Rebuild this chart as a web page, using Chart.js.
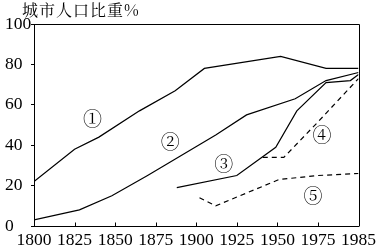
<!DOCTYPE html>
<html>
<head>
<meta charset="utf-8">
<script src="https://cdn.jsdelivr.net/npm/chart.js@4/dist/chart.umd.min.js"></script>
<style>
  html, body { margin: 0; padding: 0; background: #fff; }
</style>
</head>
<body>
<canvas id="myChart" width="380" height="250"></canvas>
<script>
// x axis tick labels (the last step, 1975 -> 1985, is drawn as wide as the others)
const tickYears = [1800, 1825, 1850, 1875, 1900, 1925, 1950, 1975, 1985]

// curves: year / urban share %
const years1 = [1800, 1825, 1840, 1865, 1887, 1905, 1952, 1977, 1985]
const vals1  = [22, 38, 44, 57, 67, 78, 84, 78, 78]
const years2 = [1800, 1828, 1848, 1870, 1912, 1931, 1961, 1977, 1985]
const vals2  = [3, 8, 15, 25, 45, 55, 63, 72, 76]
const years3 = [1888, 1925, 1949, 1962, 1977, 1983, 1985]
const vals3  = [19, 25, 39, 57, 71, 72, 75]
const years4 = [1941, 1954, 1975, 1985]
const vals4  = [34, 34, 51.5, 73]
const years5 = [1902, 1912, 1951, 1975, 1985]
const vals5  = [14, 10, 23, 25, 26]

// circled numbers inside the plot
const marks = ['①', '②', '③', '④', '⑤']
const markYears = [1836, 1884, 1917, 1976, 1972]
const markVals = [53, 41.5, 31, 45, 15]

// year -> position on the (evenly spaced) tick axis
function pos(year) {
    for (let i = 0; i < tickYears.length - 1; i++) {
        if (year <= tickYears[i + 1]) {
            return i + (year - tickYears[i]) / (tickYears[i + 1] - tickYears[i])
        }
    }
    return tickYears.length - 1
}

function pts(ys, vs) {
    return ys.map((yr, i) => ({ x: pos(yr), y: vs[i] }))
}

function line(ys, vs, dashed) {
    return {
        data: pts(ys, vs),
        borderColor: '#000',
        borderWidth: 1.2,
        borderDash: dashed ? [5, 4] : [],
        pointRadius: 0,
        tension: 0,
        fill: false
    }
}

const extras = {
    id: 'extras',
    afterDraw(chart) {
        const { ctx, chartArea: a, scales: { x, y } } = chart
        ctx.save()
        ctx.strokeStyle = '#000'
        ctx.lineWidth = 1
        // box: top and right edges
        const l = Math.round(a.left) + 0.5, t = Math.round(a.top) + 0.5
        const r = Math.round(a.right) + 0.5, b = Math.round(a.bottom) + 0.5
        ctx.beginPath()
        ctx.moveTo(l, t)
        ctx.lineTo(r, t)
        ctx.lineTo(r, b)
        ctx.stroke()
        // x ticks pointing inward
        ctx.beginPath()
        for (let i = 1; i < tickYears.length - 1; i++) {
            const px = Math.round(x.getPixelForValue(i)) + 0.5
            ctx.moveTo(px, b)
            ctx.lineTo(px, b - 4)
        }
        ctx.stroke()
        // title
        ctx.fillStyle = '#000'
        ctx.font = '16px "Noto Serif CJK SC"'
        ctx.letterSpacing = '1px'
        ctx.textAlign = 'left'
        ctx.textBaseline = 'alphabetic'
        ctx.fillText('城市人口比重%', 22, 16)
        ctx.letterSpacing = '0px'
        // circled numbers
        ctx.font = '19px "Noto Serif CJK SC"'
        ctx.textAlign = 'center'
        ctx.textBaseline = 'middle'
        marks.forEach((m, i) => {
            ctx.fillText(m, x.getPixelForValue(pos(markYears[i])), y.getPixelForValue(markVals[i]))
        })
        ctx.restore()
    }
}

const tickFont = { family: '"Liberation Serif", "Times New Roman", serif', size: 17.5 }

new Chart(document.getElementById('myChart'), {
    type: 'line',
    data: {
        datasets: [
            line(years1, vals1, false),
            line(years2, vals2, false),
            line(years3, vals3, false),
            line(years4, vals4, true),
            line(years5, vals5, true)
        ]
    },
    options: {
        responsive: false,
        animation: false,
        layout: { padding: { left: 5, top: 24, right: 15, bottom: 0 } },
        plugins: { legend: { display: false }, tooltip: { enabled: false } },
        scales: {
            x: {
                type: 'linear',
                min: 0,
                max: tickYears.length - 1,
                afterFit: s => { s.height = 24 },
                ticks: {
                    stepSize: 1,
                    autoSkip: false,
                    maxRotation: 0,
                    padding: 4,
                    color: '#000',
                    font: tickFont,
                    callback: v => tickYears[v]
                },
                grid: { display: false, drawTicks: false },
                border: { display: true, color: '#000', width: 1 }
            },
            y: {
                min: 0,
                max: 100,
                afterFit: s => { s.width = 29 },
                ticks: {
                    stepSize: 10,
                    crossAlign: 'far',
                    color: '#000',
                    font: tickFont,
                    callback: v => v % 20 === 0 ? v : ''
                },
                grid: { drawOnChartArea: false, tickLength: 3, color: '#000' },
                border: { display: true, color: '#000', width: 1 }
            }
        }
    },
    plugins: [extras]
})
</script>
</body>
</html>
